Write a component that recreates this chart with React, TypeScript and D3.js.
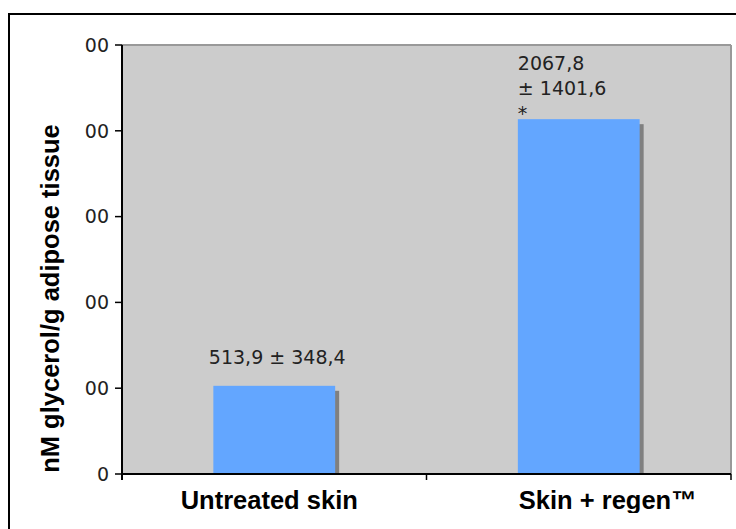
import React from "react";
import * as d3 from "d3";

const categories = ["Untreated skin", "Skin + regen™"];
const means = [513.9, 2067.8];
const sds = [348.4, 1401.6];
const significance = ["", "*"];
const yTicks = [0, 500, 1000, 1500, 2000, 2500];
const yTitle = "nM glycerol/g adipose tissue";

// layout (styles only)
const W = 736;
const H = 529;
const plot = { left: 122, right: 731, top: 45, bottom: 474 };
const labelOffsets = [-5, 29];
const annotStyle = ["inline", "stacked"];

const fmt = (v: number) => v.toFixed(1).replace(".", ",");

export default function App() {
  const x = d3
    .scaleBand<string>()
    .domain(categories)
    .range([plot.left, plot.right])
    .paddingInner(0.6)
    .paddingOuter(0.3);
  const y = d3.scaleLinear().domain([0, 2500]).range([plot.bottom, plot.top]);
  const bw = x.bandwidth();
  const step = x.step();
  const boundaries = [plot.left, plot.left + step, plot.right];

  const numFont = "'DejaVu Sans', sans-serif";
  const boldFont = "'Liberation Sans', Arial, sans-serif";

  return (
    <svg
      width={W}
      height={H}
      style={{ position: "absolute", left: 0, top: 0, display: "block" }}
    >
      <defs>
        <clipPath id="tickClip">
          <rect x={85} y={0} width={40} height={H} />
        </clipPath>
        <clipPath id="catClip">
          <rect x={0} y={0} width={W} height={513} />
        </clipPath>
      </defs>
      <rect x={0} y={0} width={W} height={H} fill="#ffffff" />
      {/* outer border */}
      <rect
        x={9}
        y={14}
        width={W + 20}
        height={H + 20}
        fill="none"
        stroke="#000"
        strokeWidth={2}
      />
      {/* plot area */}
      <rect
        x={plot.left}
        y={plot.top}
        width={plot.right - plot.left}
        height={plot.bottom - plot.top}
        fill="#cccccc"
      />
      <line
        x1={plot.left}
        x2={plot.right}
        y1={plot.top}
        y2={plot.top}
        stroke="#999"
        strokeWidth={2}
      />
      <line
        x1={plot.right}
        x2={plot.right}
        y1={plot.top}
        y2={plot.bottom}
        stroke="#999"
        strokeWidth={2}
      />

      {/* bars with shadows */}
      {categories.map((c, i) => {
        const bx = x(c) as number;
        const by = y(means[i]);
        return (
          <g key={c}>
            <rect
              x={bx + 4}
              y={by + 5}
              width={bw}
              height={plot.bottom - by - 5}
              fill="#808080"
            />
            <rect
              x={bx}
              y={by}
              width={bw}
              height={plot.bottom - by}
              fill="#63a6ff"
            />
          </g>
        );
      })}

      {/* annotations */}
      {categories.map((c, i) => {
        const bx = x(c) as number;
        const by = y(means[i]);
        if (annotStyle[i] === "inline") {
          return (
            <text
              key={c}
              x={bx + bw / 2 + 3}
              y={by - 22}
              textAnchor="middle"
              fontFamily={numFont}
              fontSize={19}
              fill="#222"
            >
              {`${fmt(means[i])} ± ${fmt(sds[i])}`}
            </text>
          );
        }
        const lines = [fmt(means[i]), `± ${fmt(sds[i])}`, significance[i]];
        return (
          <g key={c}>
            {lines.map((t, k) => (
              <text
                key={k}
                x={bx}
                y={by - 49 + k * 25}
                textAnchor="start"
                fontFamily={numFont}
                fontSize={19}
                fill="#222"
              >
                {t}
              </text>
            ))}
          </g>
        );
      })}

      {/* y axis */}
      <line
        x1={plot.left}
        x2={plot.left}
        y1={plot.top}
        y2={plot.bottom + 6}
        stroke="#000"
        strokeWidth={2}
      />
      {yTicks.map((t) => (
        <line
          key={t}
          x1={plot.left - 7}
          x2={plot.left}
          y1={y(t)}
          y2={y(t)}
          stroke="#000"
          strokeWidth={1.5}
        />
      ))}
      <g clipPath="url(#tickClip)">
        {yTicks.map((t) => (
          <text
            key={t}
            x={109}
            y={y(t)}
            dy="0.36em"
            textAnchor="end"
            fontFamily={numFont}
            fontSize={19}
            fill="#222"
          >
            {String(t)}
          </text>
        ))}
      </g>

      {/* x axis */}
      <line
        x1={plot.left}
        x2={plot.right}
        y1={plot.bottom}
        y2={plot.bottom}
        stroke="#000"
        strokeWidth={2}
      />
      {boundaries.map((b, i) => (
        <line
          key={i}
          x1={b}
          x2={b}
          y1={plot.bottom}
          y2={plot.bottom + 6}
          stroke="#000"
          strokeWidth={1.5}
        />
      ))}
      <g clipPath="url(#catClip)">
        {categories.map((c, i) => (
          <text
            key={c}
            x={(x(c) as number) + bw / 2 + labelOffsets[i]}
            y={509}
            textAnchor="middle"
            fontFamily={boldFont}
            fontWeight="bold"
            fontSize={25.5}
            fill="#000"
          >
            {c}
          </text>
        ))}
      </g>

      {/* y title */}
      <text
        transform={`translate(59, ${(plot.top + plot.bottom) / 2 + 39}) rotate(-90)`}
        textAnchor="middle"
        fontFamily={boldFont}
        fontWeight="bold"
        fontSize={25.5}
        fill="#000"
      >
        {yTitle}
      </text>
    </svg>
  );
}
